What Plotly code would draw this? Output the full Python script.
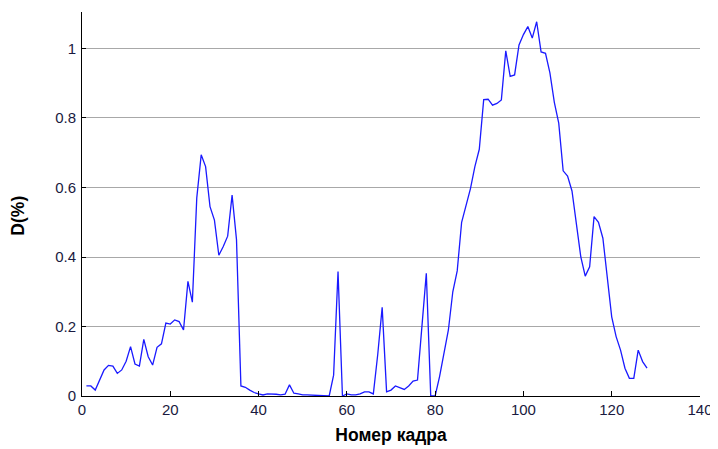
import plotly.graph_objects as go

frame = list(range(1, 129))
d_values = [
    0.029, 0.029, 0.017, 0.046, 0.075, 0.088, 0.086, 0.065, 0.075, 0.100,
    0.142, 0.092, 0.086, 0.163, 0.113, 0.089, 0.140, 0.150, 0.210, 0.207,
    0.219, 0.214, 0.190, 0.330, 0.270, 0.570, 0.694, 0.660, 0.545, 0.506,
    0.405, 0.430, 0.460, 0.578, 0.450, 0.029, 0.025, 0.017, 0.010, 0.006,
    0.003, 0.006, 0.006, 0.005, 0.003, 0.005, 0.032, 0.008, 0.006, 0.003,
    0.003, 0.002, 0.002, 0.002, 0.000, 0.000, 0.060, 0.358, 0.000, 0.006,
    0.003, 0.003, 0.006, 0.012, 0.012, 0.006, 0.120, 0.255, 0.012, 0.017,
    0.029, 0.025, 0.019, 0.029, 0.043, 0.046, 0.200, 0.353, 0.000, 0.000,
    0.056, 0.120, 0.190, 0.300, 0.360, 0.500, 0.550, 0.597, 0.660, 0.710,
    0.853, 0.854, 0.837, 0.842, 0.852, 0.993, 0.920, 0.924, 1.010, 1.040,
    1.063, 1.030, 1.077, 0.990, 0.986, 0.930, 0.845, 0.785, 0.648, 0.633,
    0.590, 0.497, 0.400, 0.345, 0.372, 0.516, 0.500, 0.454, 0.334, 0.228,
    0.171, 0.132, 0.080, 0.051, 0.051, 0.132, 0.099, 0.080,
]

x_ticks = [0, 20, 40, 60, 80, 100, 120, 140]
y_ticks = [0, 0.2, 0.4, 0.6, 0.8, 1.0]
y_tick_text = ["0", "0.2", "0.4", "0.6", "0.8", "1"]

fig = go.Figure()
fig.add_trace(go.Scatter(
    x=frame, y=d_values, mode="lines",
    line=dict(color="#1a1aff", width=1.3),
    showlegend=False, hoverinfo="skip",
))

font = dict(family="Liberation Sans, Arial, sans-serif", size=15, color="#1a1a40")

# page body has an 8px default margin, so the figure is sized to fit the window
fig.update_layout(
    width=710, height=441,
    margin=dict(l=74, r=18, t=4, b=53),
    paper_bgcolor="white", plot_bgcolor="white",
    font=font,
    xaxis=dict(
        range=[0, 140], tickvals=x_ticks,
        showgrid=False, zeroline=False, automargin=False,
        showline=True, linecolor="black", linewidth=1,
        ticks="inside", ticklen=5, tickcolor="black",
        title=dict(text="<b>Номер кадра</b>", font=dict(size=17.5, color="black"), standoff=11),
    ),
    yaxis=dict(
        range=[0, 1.105], tickvals=y_ticks, ticktext=y_tick_text,
        showgrid=True, gridcolor="#a8a8a8", gridwidth=1,
        zeroline=False, automargin=False,
        showline=True, linecolor="black", linewidth=1,
        ticks="inside", ticklen=4, tickcolor="black",
        ticklabelstandoff=2,
    ),
    annotations=[dict(
        text="<b>D(%)</b>", textangle=-90,
        xref="paper", yref="paper", x=-0.105, y=0.47,
        xanchor="center", yanchor="middle", showarrow=False,
        font=dict(size=17.5, color="black"),
    )],
)

fig.write_html("out.html")
